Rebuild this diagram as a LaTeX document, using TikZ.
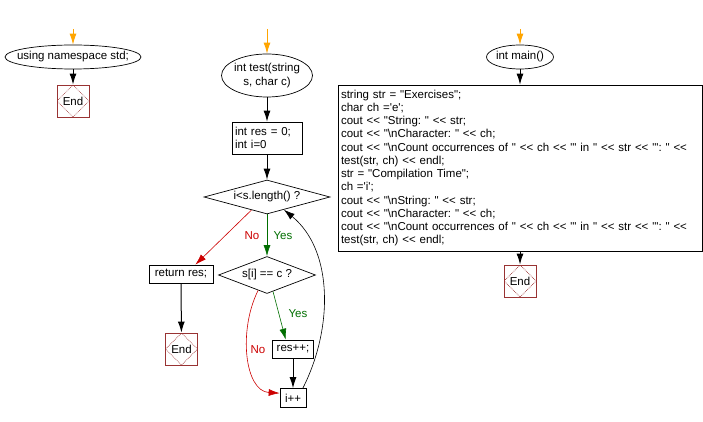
\documentclass[tikz,border=0pt]{standalone}
\usepackage{fontspec}
\setmainfont{Liberation Sans}[Ligatures=TeXOff]
\usetikzlibrary{shapes.geometric,arrows.meta}
\definecolor{startor}{RGB}{255,165,0}
\definecolor{yesgr}{RGB}{0,110,0}
\definecolor{nored}{RGB}{204,0,0}
\definecolor{endred}{RGB}{153,51,51}
\newcommand{\bs}{\textbackslash}
\frenchspacing
\tikzset{
    flowarr/.style={draw=black,line width=1pt,-{Latex[length=11pt,width=7pt]}},
    startarr/.style={draw=startor,line width=1pt,-{Latex[length=11pt,width=7pt]}},
    yesarr/.style={draw=yesgr,line width=0.6pt,-{Latex[length=11pt,width=7pt]}},
    noarr/.style={draw=nored,line width=0.6pt,-{Latex[length=11pt,width=7pt]}},
    backarr/.style={draw=black,line width=0.6pt,-{Latex[length=11pt,width=7pt]}},
    startel/.style={ellipse,draw,line width=0.7pt,inner xsep=-12pt,inner ysep=-4pt,align=center},
    stmt/.style={rectangle,draw,line width=0.7pt,inner sep=3pt},
    cond/.style={diamond,draw,line width=0.7pt,inner sep=0pt},
    endbox/.style={rectangle,draw=endred,line width=0.8pt,minimum size=32,inner sep=0pt,
        path picture={\draw[endred,densely dotted,line width=0.7pt]
            (path picture bounding box.north) -- (path picture bounding box.east) --
            (path picture bounding box.south) -- (path picture bounding box.west) -- cycle;}},
    yeslab/.style={text=yesgr},
    nolab/.style={text=nored}
}
\begin{document}
\begin{tikzpicture}[x=1pt,y=-1pt,font=\fontsize{11.5}{13.25}\selectfont]
    \useasboundingbox (0,0) rectangle (703,422);

    \coordinate (s1) at (73,29);
    \node[startel,minimum width=136,minimum height=24] (ns) at (73,57) {using namespace std;};
    \node[endbox] (end1) at (73,101) {End};

    \coordinate (s2) at (267,29);
    \node[startel,minimum width=91,minimum height=43] (test) at (267,75.5) {int test(string\\s, char c)};
    \node[stmt,text width=64,minimum height=32,align=left] (init) at (267,138) {int res = 0;\\int i=0};
    \node[cond,shape aspect=3.7,minimum width=126,minimum height=34] (loop) at (267,197) {i<s.length() ?};
    \node[stmt,minimum width=64,minimum height=18] (ret) at (181,274) {return res;};
    \node[endbox] (end2) at (181.5,349) {End};
    \node[cond,shape aspect=2.6,minimum width=97,minimum height=37] (match) at (267,275) {s[i] == c ?};
    \node[stmt,minimum width=41,minimum height=18] (incres) at (293,349) {res++;};
    \node[stmt,minimum width=26,minimum height=19] (inci) at (293,398) {i++};
    \node[nolab] (no1) at (252,236) {No};
    \node[yeslab] (yes1) at (283,236) {Yes};
    \node[yeslab] (yes2) at (298,314) {Yes};
    \node[nolab] (no2) at (258,350) {No};

    \coordinate (s3) at (520,29);
    \node[startel,minimum width=67,minimum height=24] (main) at (520,57) {int main()};
    \node[stmt,text width=358,minimum height=166,align=left] (body) at (520,168) {string str = "Exercises";\\
        char ch ='e';\\
        cout << "String: " << str;\\
        cout << "\bs nCharacter: " << ch;\\
        cout << "\bs nCount occurrences of " << ch << "' in " << str << "': " <<\\
        test(str, ch) << endl;\\
        str = "Compilation Time";\\
        ch ='i';\\
        cout << "\bs nString: " << str;\\
        cout << "\bs nCharacter: " << ch;\\
        cout << "\bs nCount occurrences of " << ch << "' in " << str << "': " <<\\
        test(str, ch) << endl;};
    \node[endbox] (end3) at (520,281) {End};

    \draw[startarr] (s1) -- (ns);
    \draw[flowarr] (ns) -- (end1);
    \draw[startarr] (s2) -- (test);
    \draw[flowarr] (test) -- (init);
    \draw[flowarr] (init) -- (loop);
    \draw[yesarr] (loop) -- (match);
    \draw[noarr] (loop.220) -- (ret.33);
    \draw[flowarr] (ret) -- (end2);
    \draw[yesarr] (match.290) -- (incres.128);
    \draw[noarr] (match.240) .. controls +(-20,40) and +(-35,-2) .. (inci.160);
    \draw[flowarr] (incres) -- (inci);
    \draw[backarr] (inci.45) .. controls +(30,-59) and +(50,41) .. (loop.-37);
    \draw[startarr] (s3) -- (main);
    \draw[flowarr] (main) -- (body);
    \draw[flowarr] (body) -- (end3);
\end{tikzpicture}
\end{document}
